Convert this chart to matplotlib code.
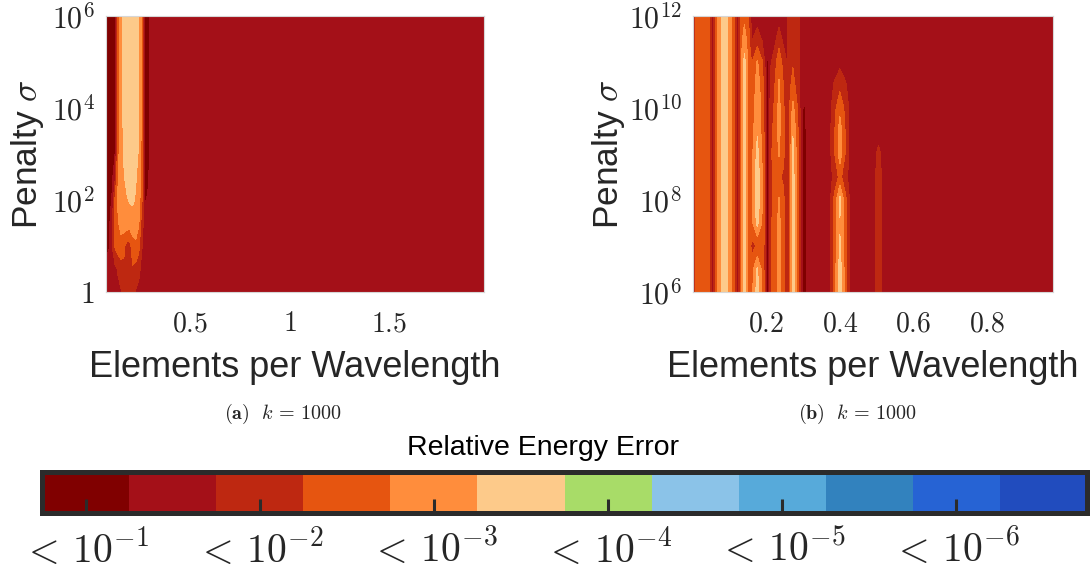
import numpy as np
import matplotlib
matplotlib.use('Agg')
import matplotlib.pyplot as plt

plt.rcParams['font.family'] = ['Liberation Sans', 'DejaVu Sans']
plt.rcParams['mathtext.fontset'] = 'cm'

# colour classes (value = -log10 of relative energy error)
level_bounds = [0.75, 1.25, 1.75, 2.25, 2.75, 3.25, 3.75, 4.25, 4.75, 5.25, 5.75, 6.25, 6.75]
level_colors = ['#800000', '#a41018', '#be2811', '#e65510', '#ff8d3c', '#fdca8a',
                '#a8dc68', '#8bc3e8', '#57aada', '#3282be', '#2663d4', '#214cbe']
cbar_ticks = [1, 2, 3, 4, 5, 6]
cbar_labels = [r'$<\,10^{-1}$', r'$<\,10^{-2}$', r'$<\,10^{-3}$',
               r'$<\,10^{-4}$', r'$<\,10^{-5}$', r'$<\,10^{-6}$']

# panel (a): sigma from 1 to 1e6
sigma_exp_a = [6, 5, 4, 3, 2.5, 2, 1.5, 1, 0.5, 0]
epw_a = [0.075, 0.09, 0.105, 0.12, 0.135, 0.15, 0.165, 0.18, 0.195, 0.21,
         0.225, 0.24, 0.255, 0.27, 0.285, 0.30, 0.32, 1.98]
err_a = [
    [1.0, 1.0, 1.0, 1.1, 2.6, 3.0, 3.4, 3.6, 3.7, 3.6, 3.5, 3.3, 2.6, 1.0, 1.0, 1.4, 1.5, 1.5],
    [1.0, 1.0, 1.0, 1.1, 2.6, 3.0, 3.4, 3.6, 3.7, 3.6, 3.5, 3.3, 2.6, 1.0, 1.0, 1.4, 1.5, 1.5],
    [1.0, 1.0, 1.0, 1.1, 2.6, 3.0, 3.4, 3.6, 3.7, 3.6, 3.5, 3.3, 2.6, 1.0, 1.0, 1.4, 1.5, 1.5],
    [1.0, 1.0, 1.0, 1.2, 2.6, 3.0, 3.3, 3.5, 3.6, 3.5, 3.4, 3.2, 2.6, 1.0, 1.0, 1.4, 1.5, 1.5],
    [1.0, 1.0, 1.1, 1.6, 2.7, 3.0, 3.2, 3.4, 3.5, 3.4, 3.3, 3.0, 2.5, 1.1, 1.1, 1.5, 1.5, 1.5],
    [1.0, 1.0, 1.3, 2.3, 2.8, 3.0, 3.1, 3.2, 3.3, 3.3, 3.2, 3.0, 2.4, 1.2, 1.3, 1.5, 1.5, 1.5],
    [1.0, 1.1, 1.6, 2.4, 2.7, 2.9, 3.0, 3.1, 3.0, 3.1, 3.1, 2.8, 2.0, 1.5, 1.5, 1.5, 1.5, 1.5],
    [1.0, 1.2, 1.7, 2.3, 2.5, 2.6, 2.4, 2.0, 2.1, 2.5, 2.6, 2.4, 1.8, 1.5, 1.5, 1.5, 1.5, 1.5],
    [1.5, 1.5, 1.5, 1.6, 1.8, 2.0, 2.1, 2.1, 2.2, 2.2, 2.1, 1.9, 1.6, 1.5, 1.5, 1.5, 1.5, 1.5],
    [1.5, 1.5, 1.5, 1.5, 1.6, 1.7, 1.9, 2.0, 2.0, 1.9, 1.7, 1.6, 1.5, 1.5, 1.5, 1.5, 1.5, 1.5],
]

# panel (b): sigma from 1e6 to 1e12, stored column by column (top -> bottom)
sigma_exp_b = [12, 11.5, 11, 10.5, 10, 9.5, 9, 8.5, 8, 7.5, 7, 6.5, 6]
epw_b = [0.0, 0.01, 0.03, 0.045, 0.053, 0.062, 0.072, 0.087, 0.10, 0.11,
         0.122, 0.132, 0.14, 0.15, 0.16, 0.175, 0.188, 0.197, 0.203, 0.212,
         0.222, 0.234, 0.247, 0.257, 0.265, 0.272, 0.283, 0.292, 0.302, 0.312,
         0.37, 0.385, 0.40, 0.415, 0.43, 0.49, 0.505, 0.52, 0.98]
err_b_cols = [
    [1.9, 1.9, 1.9, 1.9, 1.9, 1.9, 1.9, 1.9, 1.9, 1.9, 1.9, 1.9, 1.9],
    [2.5, 2.5, 2.5, 2.5, 2.5, 2.5, 2.5, 2.5, 2.5, 2.5, 2.5, 2.5, 2.5],
    [2.6, 2.6, 2.6, 2.6, 2.6, 2.6, 2.6, 2.6, 2.6, 2.6, 2.6, 2.6, 2.6],
    [2.4, 2.4, 2.4, 2.4, 2.4, 2.4, 2.4, 2.4, 2.4, 2.4, 2.4, 2.4, 2.4],
    [1.4, 1.4, 1.4, 1.4, 1.4, 1.4, 1.4, 1.4, 1.4, 1.4, 1.4, 1.4, 1.4],
    [2.5, 2.5, 2.5, 2.5, 2.5, 2.5, 2.5, 2.5, 2.5, 2.5, 2.5, 2.5, 2.5],
    [3.0, 3.0, 3.0, 3.0, 3.0, 3.0, 3.0, 3.0, 3.0, 3.0, 3.0, 3.0, 3.0],
    [3.6, 3.6, 3.6, 3.6, 3.6, 3.6, 3.6, 3.6, 3.6, 3.6, 3.6, 3.6, 3.6],
    [3.0, 3.0, 3.0, 3.0, 3.0, 3.0, 3.0, 3.0, 3.0, 3.0, 3.0, 3.0, 3.0],
    [2.5, 2.5, 2.5, 2.5, 2.5, 2.5, 2.5, 2.5, 2.5, 2.5, 2.5, 2.5, 2.5],
    [1.4, 1.4, 1.4, 1.4, 1.4, 1.4, 1.4, 1.4, 1.4, 1.4, 1.4, 1.4, 1.4],
    [2.5, 2.6, 2.8, 2.8, 2.8, 2.8, 2.8, 2.8, 2.8, 2.8, 2.8, 2.8, 2.8],
    [2.6, 3.0, 3.4, 3.5, 3.5, 3.5, 3.5, 3.5, 3.5, 3.5, 3.5, 3.5, 3.5],
    [2.4, 2.5, 2.7, 2.7, 2.7, 2.7, 2.7, 2.7, 2.7, 2.7, 2.7, 2.7, 2.7],
    [1.5, 1.7, 2.2, 2.3, 2.4, 2.5, 2.6, 2.7, 2.7, 2.6, 2.1, 2.5, 2.6],
    [1.5, 2.0, 2.8, 3.0, 3.1, 3.2, 3.4, 3.6, 3.6, 3.4, 2.3, 3.3, 3.5],
    [1.5, 1.7, 2.3, 2.5, 2.6, 2.6, 2.7, 2.8, 2.8, 2.7, 2.6, 2.6, 2.7],
    [1.5, 1.5, 1.6, 1.9, 2.0, 2.0, 2.0, 2.0, 2.0, 2.0, 2.0, 2.0, 2.0],
    [1.5, 1.5, 1.1, 0.9, 0.9, 0.9, 0.9, 0.9, 0.9, 0.9, 0.9, 0.9, 0.9],
    [1.5, 1.5, 1.7, 2.0, 2.1, 2.1, 2.2, 2.2, 2.2, 2.2, 2.2, 2.2, 2.2],
    [1.5, 1.6, 2.0, 2.2, 2.3, 2.4, 2.4, 2.3, 2.3, 2.4, 2.4, 2.4, 2.4],
    [1.5, 2.0, 2.6, 2.8, 2.9, 2.9, 2.8, 2.3, 2.8, 2.9, 2.9, 2.9, 2.9],
    [1.5, 1.6, 2.0, 2.2, 2.3, 2.3, 2.3, 2.2, 2.3, 2.3, 2.3, 2.3, 2.3],
    [1.7, 1.7, 1.7, 1.7, 1.7, 1.8, 1.8, 1.8, 1.8, 1.8, 1.8, 1.8, 1.8],
    [2.0, 2.0, 2.0, 2.2, 2.4, 2.5, 2.6, 2.6, 2.6, 2.6, 2.6, 2.6, 2.6],
    [2.1, 2.1, 2.2, 2.4, 2.9, 3.2, 3.4, 3.5, 3.5, 3.5, 3.5, 3.5, 3.5],
    [2.0, 2.0, 2.0, 2.1, 2.3, 2.5, 2.6, 2.6, 2.6, 2.6, 2.6, 2.6, 2.6],
    [1.6, 1.6, 1.6, 1.6, 1.7, 1.8, 1.8, 1.8, 1.8, 1.8, 1.8, 1.8, 1.8],
    [1.5, 1.5, 1.5, 1.5, 1.1, 0.9, 0.9, 0.9, 0.9, 0.9, 0.9, 0.9, 0.9],
    [1.5, 1.5, 1.5, 1.5, 1.5, 1.5, 1.5, 1.5, 1.5, 1.5, 1.5, 1.5, 1.5],
    [1.5, 1.5, 1.5, 1.5, 1.5, 1.5, 1.5, 1.5, 1.5, 1.5, 1.5, 1.5, 1.5],
    [1.5, 1.5, 1.5, 1.8, 2.1, 2.2, 2.2, 1.9, 2.4, 2.5, 2.4, 2.5, 2.5],
    [1.5, 1.5, 1.6, 2.1, 2.6, 3.0, 3.0, 2.4, 3.4, 3.2, 3.3, 3.5, 3.5],
    [1.5, 1.5, 1.5, 1.8, 2.1, 2.2, 2.2, 1.9, 2.4, 2.5, 2.4, 2.5, 2.5],
    [1.5, 1.5, 1.5, 1.5, 1.5, 1.5, 1.5, 1.5, 1.5, 1.5, 1.5, 1.5, 1.5],
    [1.5, 1.5, 1.5, 1.5, 1.5, 1.5, 1.5, 1.5, 1.5, 1.5, 1.5, 1.5, 1.5],
    [1.5, 1.5, 1.5, 1.5, 1.5, 1.5, 1.9, 2.0, 2.0, 2.0, 2.0, 2.0, 2.0],
    [1.5, 1.5, 1.5, 1.5, 1.5, 1.5, 1.5, 1.5, 1.5, 1.5, 1.5, 1.5, 1.5],
    [1.5, 1.5, 1.5, 1.5, 1.5, 1.5, 1.5, 1.5, 1.5, 1.5, 1.5, 1.5, 1.5],
]

W, H = 1092, 570
text_col = '#262626'

fig = plt.figure(figsize=(W / 100, H / 100), dpi=100)
ax_a = fig.add_axes([106 / W, 1 - 292 / H, 378 / W, 276 / H])
ax_b = fig.add_axes([693 / W, 1 - 292 / H, 360 / W, 276 / H])

cs = ax_a.contourf(epw_a, sigma_exp_a, np.array(err_a),
                   levels=level_bounds, colors=level_colors)
ax_b.contourf(epw_b, sigma_exp_b, np.array(err_b_cols).T,
              levels=level_bounds, colors=level_colors)

ax_a.set_xlim(0.075, 1.98)
ax_a.set_ylim(0, 6)
ax_a.set_xticks([0.5, 1, 1.5])
ax_a.set_xticklabels([r'$0.5$', r'$1$', r'$1.5$'])
ax_a.set_yticks([0, 2, 4, 6])
ax_a.set_yticklabels([r'$1$', r'$10^2$', r'$10^4$', r'$10^6$'])

ax_b.set_xlim(0.0, 0.98)
ax_b.set_ylim(6, 12)
ax_b.set_xticks([0.2, 0.4, 0.6, 0.8])
ax_b.set_xticklabels([r'$0.2$', r'$0.4$', r'$0.6$', r'$0.8$'])
ax_b.set_yticks([6, 8, 10, 12])
ax_b.set_yticklabels([r'$10^6$', r'$10^8$', r'$10^{10}$', r'$10^{12}$'])

for ax, ylab_x in [(ax_a, -0.159), (ax_b, -0.183)]:
    ax.tick_params(length=0, colors=text_col)
    ax.tick_params(axis='x', pad=14, labelsize=20)
    ax.tick_params(axis='y', pad=8, labelsize=21.5)
    for s in ax.spines.values():
        s.set_color('#d6d6d6')
        s.set_linewidth(0.8)
    ax.set_xlabel('Elements per Wavelength', fontsize=26, color=text_col)
    ax.set_ylabel(r'Penalty $\sigma$', fontsize=25.5, color=text_col)
    ax.xaxis.set_label_coords(0.5, -0.21)
    ax.yaxis.set_label_coords(ylab_x, 0.5)

fig.text(283 / W, 1 - 414 / H, r'$\mathbf{(a)}\ \ k\,=\,1000$', fontsize=14.5,
         ha='center', va='center', color=text_col)
fig.text(858 / W, 1 - 414 / H, r'$\mathbf{(b)}\ \ k\,=\,1000$', fontsize=14.5,
         ha='center', va='center', color=text_col)

# colour bar
cax = fig.add_axes([42 / W, 1 - 513 / H, 1045 / W, 41 / H])
cb = fig.colorbar(cs, cax=cax, orientation='horizontal', ticks=cbar_ticks)
cb.set_ticklabels(cbar_labels)
cb.outline.set_linewidth(3.6)
cb.outline.set_edgecolor('#2b2b2b')
cax.tick_params(direction='in', length=10, width=2.2, color='#2b2b2b',
                labelsize=28.5, pad=11, labelcolor=text_col)
fig.text(543 / W, 1 - 448 / H, 'Relative Energy Error', fontsize=20.5,
         ha='center', va='center', color='black')

fig.savefig('out.png', dpi=100)
